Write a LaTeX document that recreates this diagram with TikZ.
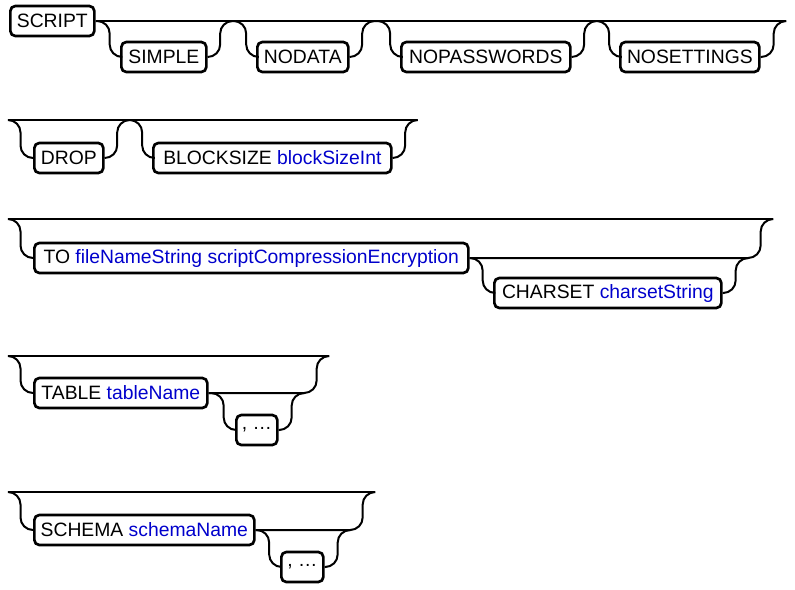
\documentclass[tikz,border=0pt]{standalone}
\usepackage{fontspec}
\setmainfont{Liberation Sans}
\usetikzlibrary{positioning, calc}

\definecolor{argblue}{RGB}{0,0,204}
\newcommand{\argname}[1]{\textcolor{argblue}{#1}}

\begin{document}
\begin{tikzpicture}[
        x=0.75pt, y=-0.75pt,
        kw/.style={rectangle, draw=black, line width=2pt, fill=white, anchor=west, minimum height=22.5pt, inner xsep=1.5pt, font=\fontsize{14.5}{17}\selectfont, rounded corners=3.75pt},
        rail/.style={line width=1.5pt, draw=black, rounded corners=9.4pt}
    ]
        \useasboundingbox (0,0) rectangle (795,589);
        % row 1
        \node[kw, minimum width=63pt] (script) at (9,21) {SCRIPT};
        \node[kw, minimum width=63.75pt] (simple) at (120,57) {SIMPLE};
        \node[kw, minimum width=68.25pt] (nodata) at (256,57) {NODATA};
        \node[kw, minimum width=126.75pt] (nopw) at (400,57) {NOPASSWORDS};
        \node[kw, minimum width=104.25pt] (noset) at (619,57) {NOSETTINGS};
        \coordinate (end1) at (785,21);
        \draw[rail] (script.east) -- (end1);
        \draw[rail] (script.east) -- ++(14,0) -- ++(0,36) -- (simple.west);
        \draw[rail] (simple.east) -- ++(12.5,0) -- ++(0,-36) -- ++(26,0) -- ++(0,36) -- (nodata.west);
        \draw[rail] (nodata.east) -- ++(12.5,0) -- ++(0,-36) -- ++(28,0) -- ++(0,36) -- (nopw.west);
        \draw[rail] (nopw.east) -- ++(12.5,0) -- ++(0,-36) -- ++(25,0) -- ++(0,36) -- (noset.west);
        \draw[rail] (noset.east) -- ++(13,0) -- ++(0,-36) -- (end1);
        % row 2
        \node[kw, minimum width=51.75pt] (drop) at (33,158) {DROP};
        \node[kw, minimum width=178.5pt] (blocksize) at (152,158) {BLOCKSIZE \argname{blockSizeInt}};
        \coordinate (start2) at (8,120);
        \coordinate (end2) at (415,120);
        \draw[rail] (start2) -- (end2);
        \draw[rail] (start2) -- ++(12.5,0) -- ++(0,38) -- (drop.west);
        \draw[rail] (drop.east) -- ++(12.5,0) -- ++(0,-38) -- ++(25,0) -- ++(0,38) -- (blocksize.west);
        \draw[rail] (blocksize.east) -- ++(12.5,0) -- ++(0,-38) -- (end2);
        % row 3
        \node[kw, minimum width=325.5pt] (to) at (33,258) {TO \argname{fileNameString scriptCompressionEncryption}};
        \node[kw, minimum width=170.25pt] (charset) at (493,293) {CHARSET \argname{charsetString}};
        \coordinate (start3) at (8,219);
        \coordinate (end3) at (772,219);
        \draw[rail] (start3) -- (end3);
        \draw[rail] (start3) -- ++(12.5,0) -- ++(0,39) -- (to.west);
        \draw[rail] (to.east) -- ++(291,0) -- ++(0,-39) -- (end3);
        \draw[rail] (to.east) -- ++(13,0) -- ++(0,35) -- (charset.west);
        \draw[rail] (charset.east) -- ++(13,0) -- ++(0,-35) -- ++(12.5,0);
        % row 4
        \node[kw, minimum width=129.75pt] (table) at (33,393) {TABLE \argname{tableName}};
        \node[kw, minimum width=30.75pt] (tablemore) at (235,430) {, …};
        \coordinate (start4) at (8,356);
        \coordinate (end4) at (327,356);
        \draw[rail] (start4) -- (end4);
        \draw[rail] (start4) -- ++(12.5,0) -- ++(0,37) -- (table.west);
        \draw[rail] (table.east) -- ++(108,0) -- ++(0,-37) -- (end4);
        \draw[rail] (table.east) -- ++(15,0) -- ++(0,37) -- (tablemore.west);
        \draw[rail] (tablemore.east) -- ++(13,0) -- ++(0,-37) -- ++(12.5,0);
        % row 5
        \node[kw, minimum width=165pt] (schema) at (33,530) {SCHEMA \argname{schemaName}};
        \node[kw, minimum width=31.5pt] (schemamore) at (280,567) {, …};
        \coordinate (start5) at (8,492);
        \coordinate (end5) at (373,492);
        \draw[rail] (start5) -- (end5);
        \draw[rail] (start5) -- ++(12.5,0) -- ++(0,38) -- (schema.west);
        \draw[rail] (schema.east) -- ++(107,0) -- ++(0,-38) -- (end5);
        \draw[rail] (schema.east) -- ++(13.5,0) -- ++(0,37) -- (schemamore.west);
        \draw[rail] (schemamore.east) -- ++(13,0) -- ++(0,-37) -- ++(12.5,0);
    \end{tikzpicture}
\end{document}
